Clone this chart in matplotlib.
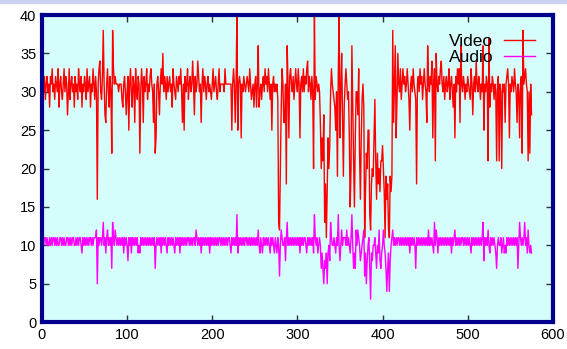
#!/usr/bin/env python3
"""Video / audio per-frame trace, gnuplot-looking: cyan panel, navy frame, inward ticks."""

import matplotlib

matplotlib.use("Agg")
import matplotlib.pyplot as plt
from matplotlib.patches import Rectangle

plt.rcParams["font.family"] = ["Liberation Sans", "DejaVu Sans"]

# one sample per frame index 0..575
VIDEO = [
    16, 31, 30, 32, 29, 31, 32, 30, 31, 28, 32, 31, 33, 30, 31, 29, 32, 31, 30, 33, 28, 31, 32, 30, 29,
    31, 33, 30, 32, 31, 27, 30, 33, 29, 31, 32, 30, 31, 28, 32, 30, 31, 29, 33, 31, 30, 32, 28, 31, 30,
    32, 31, 29, 33, 30, 31, 32, 28, 31, 30, 33, 31, 29, 32, 30, 16, 31, 33, 34, 30, 29, 32, 38, 31, 27,
    26, 31, 33, 30, 28, 32, 30, 22, 38, 33, 31, 32, 31, 31, 31, 30, 31, 31, 31, 29, 28, 31, 32, 30, 27,
    30, 32, 25, 31, 33, 30, 28, 32, 31, 26, 33, 30, 29, 32, 31, 22, 30, 33, 31, 26, 32, 30, 31, 33, 29,
    31, 30, 32, 33, 31, 30, 26, 31, 22, 24, 31, 32, 30, 27, 31, 33, 31, 35, 30, 32, 31, 29, 32, 30, 31,
    32, 30, 31, 28, 33, 31, 30, 29, 32, 31, 30, 32, 31, 33, 30, 26, 31, 25, 32, 30, 31, 33, 29, 31, 32,
    30, 31, 34, 31, 27, 32, 30, 31, 34, 32, 30, 31, 26, 31, 33, 30, 32, 31, 29, 31, 32, 30, 31, 30, 29,
    31, 33, 30, 31, 32, 30, 29, 31, 33, 30, 31, 31, 31, 31, 30, 33, 31, 31, 31, 31, 31, 31, 31, 25, 31,
    33, 31, 26, 31, 40, 25, 31, 32, 31, 24, 31, 30, 32, 31, 30, 31, 32, 31, 30, 33, 31, 29, 30, 31, 28,
    31, 32, 28, 31, 36, 28, 30, 31, 29, 31, 32, 30, 33, 31, 32, 30, 33, 31, 29, 31, 25, 31, 32, 30, 31,
    30, 31, 29, 13, 12, 20, 28, 33, 31, 26, 26, 31, 18, 36, 31, 24, 32, 33, 31, 30, 32, 29, 31, 33, 31,
    30, 33, 31, 24, 31, 32, 30, 33, 30, 32, 31, 33, 34, 30, 32, 31, 29, 32, 30, 20, 40, 29, 32, 31, 30,
    31, 30, 26, 20, 24, 21, 27, 13, 18, 11, 17, 24, 20, 23, 30, 33, 31, 30, 29, 28, 25, 30, 19, 32, 40,
    24, 30, 35, 27, 19, 28, 31, 33, 31, 29, 30, 24, 15, 20, 36, 28, 21, 15, 24, 30, 30, 27, 33, 22, 16,
    24, 29, 31, 28, 11, 17, 22, 20, 25, 25, 14, 12, 18, 20, 19, 24, 29, 21, 16, 22, 18, 20, 17, 21, 21,
    23, 20, 17, 11, 19, 16, 18, 12, 11, 19, 17, 19, 38, 26, 31, 36, 24, 29, 35, 31, 30, 33, 29, 31, 33,
    31, 32, 30, 31, 33, 31, 29, 25, 31, 32, 30, 33, 31, 30, 29, 18, 31, 32, 30, 33, 31, 32, 29, 31, 33,
    31, 30, 26, 36, 31, 30, 32, 31, 34, 24, 31, 33, 21, 35, 31, 30, 32, 31, 33, 34, 31, 30, 32, 29, 31,
    32, 30, 31, 33, 29, 31, 32, 30, 28, 31, 24, 32, 30, 33, 31, 33, 26, 36, 31, 30, 32, 31, 29, 31, 30,
    32, 31, 30, 29, 33, 31, 27, 31, 32, 30, 34, 31, 30, 32, 31, 29, 31, 30, 36, 25, 31, 30, 32, 31, 21,
    37, 28, 31, 30, 32, 31, 29, 31, 30, 21, 31, 32, 21, 31, 30, 20, 31, 30, 31, 26, 31, 32, 33, 31, 24,
    31, 30, 32, 31, 30, 33, 31, 30, 26, 31, 30, 24, 31, 32, 22, 38, 31, 32, 33, 31, 30, 21, 30, 22, 31, 27,
]

AUDIO = [
    10, 11, 10, 11, 11, 10, 11, 10, 10, 11, 10, 11, 10, 11, 11, 10, 11, 10, 11, 10, 10, 11, 11, 10, 11,
    10, 11, 10, 10, 11, 11, 10, 11, 10, 11, 10, 11, 11, 10, 10, 11, 10, 11, 10, 11, 11, 10, 9, 11, 10,
    11, 10, 11, 10, 11, 10, 11, 11, 10, 11, 10, 11, 11, 11, 12, 5, 11, 10, 11, 11, 10, 11, 13, 10, 11,
    9, 11, 12, 10, 11, 10, 11, 7, 13, 11, 10, 12, 11, 10, 11, 10, 11, 10, 11, 10, 11, 9, 11, 10, 11,
    10, 8, 11, 10, 11, 9, 11, 10, 11, 10, 11, 10, 11, 9, 10, 9, 11, 10, 11, 10, 11, 10, 11, 10, 11,
    10, 11, 10, 11, 10, 11, 10, 11, 7, 10, 11, 10, 11, 10, 11, 9, 11, 10, 11, 10, 11, 10, 9, 11, 10,
    11, 10, 11, 10, 11, 10, 9, 11, 10, 11, 10, 11, 9, 11, 10, 11, 10, 11, 10, 11, 10, 11, 11, 10, 11,
    10, 11, 10, 11, 11, 10, 12, 11, 10, 11, 10, 11, 9, 11, 10, 11, 10, 11, 10, 11, 10, 11, 9, 11, 10,
    11, 10, 11, 10, 11, 10, 11, 10, 11, 11, 10, 11, 10, 11, 10, 11, 10, 11, 10, 11, 11, 10, 9, 11, 10,
    11, 10, 11, 10, 14, 9, 11, 10, 11, 10, 11, 10, 11, 10, 11, 11, 10, 11, 10, 11, 10, 11, 10, 11, 10,
    11, 10, 11, 10, 12, 10, 9, 11, 10, 9, 11, 10, 11, 10, 11, 10, 11, 10, 9, 11, 10, 11, 10, 9, 11,
    10, 9, 11, 10, 6, 10, 12, 11, 10, 10, 11, 8, 11, 13, 10, 11, 10, 11, 10, 11, 10, 11, 10, 11, 10,
    11, 10, 11, 9, 11, 10, 11, 10, 11, 11, 10, 9, 11, 10, 11, 10, 11, 10, 11, 9, 14, 11, 10, 11, 9,
    10, 11, 10, 7, 9, 7, 5, 8, 7, 9, 5, 9, 10, 8, 13, 11, 10, 10, 11, 10, 9, 11, 10, 14, 10,
    8, 10, 12, 10, 11, 11, 11, 10, 12, 10, 11, 10, 9, 11, 14, 10, 7, 9, 7, 12, 10, 12, 11, 10, 8,
    9, 10, 11, 12, 6, 9, 5, 8, 10, 11, 7, 3, 9, 8, 10, 10, 11, 9, 7, 10, 9, 12, 8, 7, 9,
    10, 12, 10, 9, 7, 4, 7, 9, 4, 8, 10, 11, 12, 10, 11, 10, 11, 10, 11, 11, 10, 11, 10, 11, 10,
    11, 10, 11, 10, 11, 10, 11, 9, 11, 10, 11, 10, 11, 10, 7, 11, 10, 11, 10, 11, 10, 11, 10, 11, 10,
    11, 10, 11, 10, 12, 10, 11, 10, 11, 10, 9, 13, 10, 12, 11, 9, 11, 10, 11, 10, 11, 10, 11, 10, 11,
    10, 11, 10, 11, 10, 11, 9, 11, 10, 11, 12, 10, 11, 10, 11, 10, 11, 10, 11, 11, 10, 11, 10, 11, 10,
    11, 10, 11, 10, 9, 11, 10, 11, 10, 11, 10, 11, 10, 11, 10, 11, 10, 11, 13, 8, 11, 10, 11, 10, 12,
    10, 9, 11, 10, 11, 10, 11, 10, 9, 7, 10, 11, 10, 10, 11, 9, 10, 11, 9, 10, 9, 11, 10, 11, 10,
    11, 10, 11, 10, 11, 10, 11, 10, 11, 7, 10, 13, 11, 10, 11, 10, 11, 13, 10, 11, 9, 12, 10, 9, 10, 9,
]

XTICKS = [0, 100, 200, 300, 400, 500, 600]
YTICKS = [0, 5, 10, 15, 20, 25, 30, 35, 40]

frames = list(range(len(VIDEO)))

fig = plt.figure(figsize=(5.67, 3.49), dpi=100)
# thin lavender strip along the top edge of the image
fig.patches.append(Rectangle((0, 0.99), 1, 0.01, transform=fig.transFigure,
                             color="#cdd2f2", zorder=0))
ax = fig.add_axes([0.074, 0.077, 0.901, 0.880])
ax.set_facecolor("#d5fdfb")

ax.plot(frames, VIDEO, color="#ff0000", lw=1.0, label="Video")
ax.plot(frames, AUDIO, color="#ff00ff", lw=1.0, label="Audio")

ax.set_xlim(0, 600)
ax.set_ylim(0, 40)
ax.set_xticks(XTICKS)
ax.set_yticks(YTICKS)
ax.tick_params(direction="in", length=5, width=1, color="#333333",
               top=True, right=True, labelsize=10.5, pad=4)
for sp in ax.spines.values():
    sp.set_color("#00008c")
    sp.set_linewidth(3)

leg = ax.legend(loc="upper right", bbox_to_anchor=(0.965, 0.94), frameon=False,
                markerfirst=False, fontsize=12.5, handlelength=1.8,
                handletextpad=0.6, labelspacing=0.1, borderpad=0,
                borderaxespad=0)

fig.savefig("out.png", dpi=100)
